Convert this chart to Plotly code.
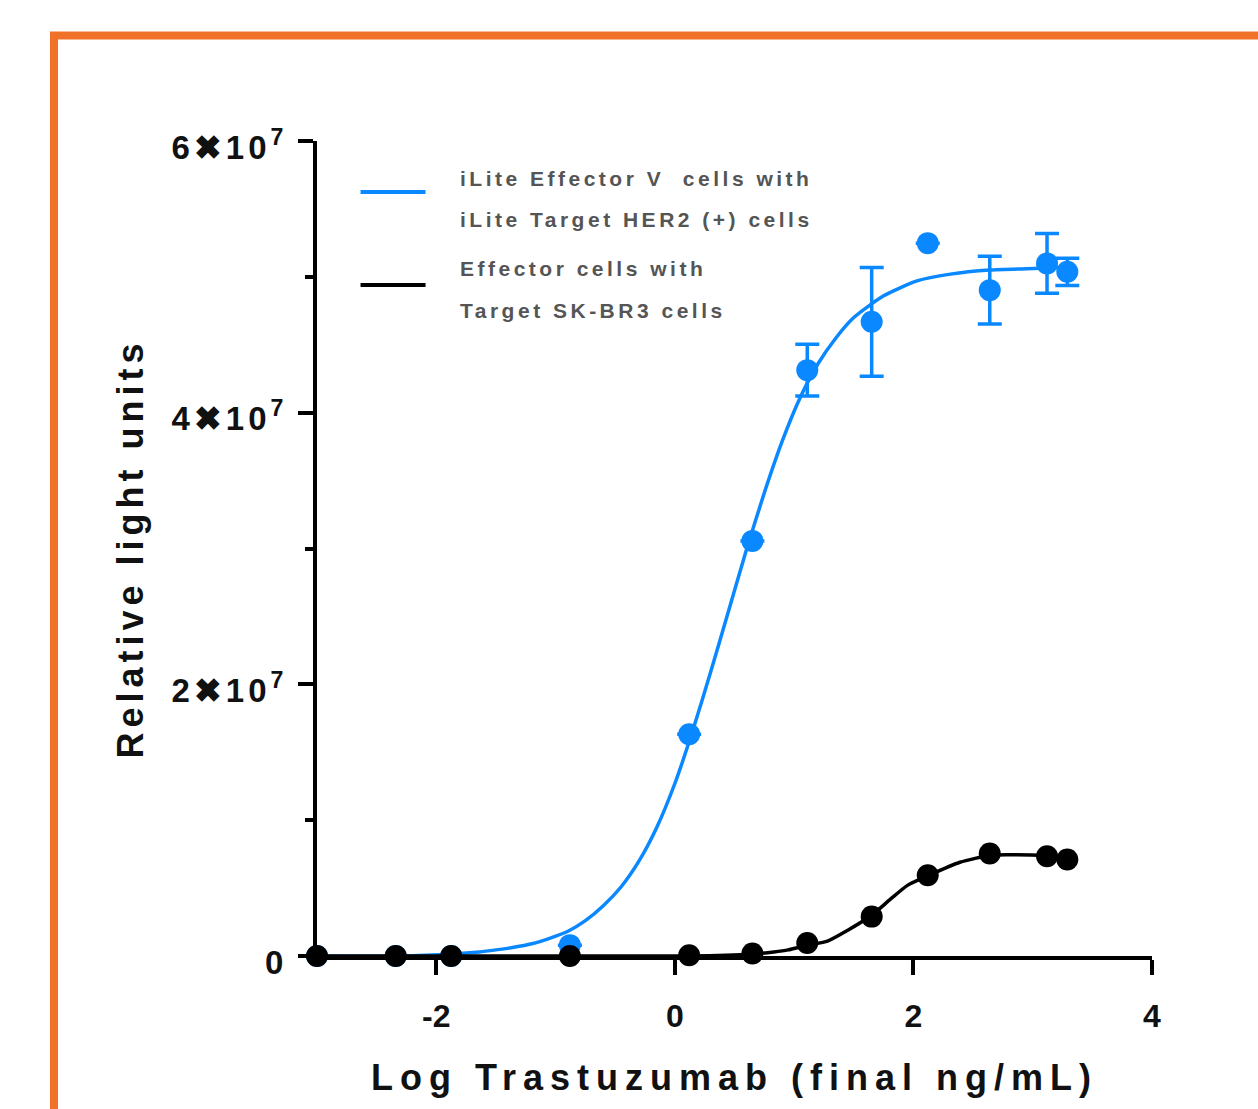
import plotly.graph_objects as go

# ---- measured data -------------------------------------------------------
# log10 of final Trastuzumab concentration (ng/mL)
log_conc = [-3.0, -2.34, -1.875, -0.88, 0.12, 0.65, 1.11, 1.65, 2.12, 2.64, 3.12, 3.29]

# iLite Effector V cells + iLite Target HER2(+) cells (mean RLU, SD)
ilite_rlu = [0.0, 0.0, 0.0, 0.08e7, 1.633e7, 3.056e7, 4.313e7, 4.669e7, 5.248e7, 4.902e7, 5.099e7, 5.037e7]
ilite_sd = [None, None, None, None, None, None, 0.19e7, 0.40e7, None, 0.25e7, 0.22e7, 0.10e7]

# Effector cells + Target SK-BR3 cells (mean RLU)
skbr3_rlu = [0.0, 0.0, 0.0, 0.0, 0.005e7, 0.018e7, 0.096e7, 0.29e7, 0.595e7, 0.754e7, 0.734e7, 0.71e7]

# fitted dose-response curves (sampled)
ilite_fit_log = [-3.0, -2.3, -1.87, -1.64, -1.5, -1.35, -1.2, -1.05, -0.9, -0.75, -0.6, -0.45,
                 -0.3, -0.15, 0.0, 0.15, 0.3, 0.45, 0.6, 0.75, 0.9, 1.05, 1.2, 1.35, 1.5, 1.75,
                 2.03, 2.31, 2.64, 2.95, 3.29]
ilite_fit_rlu = [0.0, 0.0, 0.015e7, 0.03e7, 0.045e7, 0.064e7, 0.09e7, 0.13e7, 0.18e7, 0.26e7,
                 0.37e7, 0.51e7, 0.70e7, 0.95e7, 1.27e7, 1.66e7, 2.09e7, 2.54e7, 2.99e7, 3.41e7,
                 3.79e7, 4.11e7, 4.36e7, 4.55e7, 4.70e7, 4.86e7, 4.97e7, 5.02e7, 5.05e7, 5.06e7,
                 5.07e7]

skbr3_fit_log = [-3.0, -1.87, -0.88, 0.12, 0.65, 0.83, 0.95, 1.11, 1.28, 1.45, 1.65, 1.81, 1.95,
                 2.12, 2.39, 2.64, 2.78, 3.12, 3.29]
skbr3_fit_rlu = [0.0, 0.0, 0.0, 0.0, 0.015e7, 0.03e7, 0.045e7, 0.08e7, 0.11e7, 0.19e7, 0.30e7,
                 0.42e7, 0.52e7, 0.59e7, 0.69e7, 0.74e7, 0.745e7, 0.74e7, 0.73e7]

x_ticks = [-2, 0, 2, 4]
x_ticktext = ["-2", "0", "2", "4"]
y_ticks = [0, 2e7, 4e7, 6e7]
y_ticktext = ["0", "2✖10<sup>7</sup>", "4✖10<sup>7</sup>", "6✖10<sup>7</sup>"]

legend_labels = [
    ("iLite Effector V  cells with", "iLite Target HER2 (+) cells"),
    ("Effector cells with", "Target SK-BR3 cells"),
]

# ---- styling ----------------------------------------------------------------
BLUE = "#0a88ff"
BLACK = "#000000"
ORANGE = "#f07228"
FONT = "Liberation Sans, Arial, Helvetica, sans-serif"

W, H = 1258, 1109
M_L, M_R, M_T, M_B = 317, 106, 141, 153


def paper_x(px):
    return (px - M_L) / (W - M_L - M_R)


def paper_y(py):
    return (H - M_B - py) / (H - M_T - M_B)


fig = go.Figure()

# iLite fit curve and points
fig.add_trace(go.Scatter(
    x=ilite_fit_log, y=ilite_fit_rlu, mode="lines",
    line=dict(color=BLUE, width=3.5, shape="spline", smoothing=0.6),
    showlegend=False, hoverinfo="skip"))
fig.add_trace(go.Scatter(
    x=log_conc, y=ilite_rlu, mode="markers",
    marker=dict(color=BLUE, size=22),
    error_y=dict(type="data", array=ilite_sd, color=BLUE, thickness=3.5, width=12),
    cliponaxis=False, showlegend=False))

# SK-BR3 fit curve and points
fig.add_trace(go.Scatter(
    x=skbr3_fit_log, y=skbr3_fit_rlu, mode="lines",
    line=dict(color=BLACK, width=3.5, shape="spline", smoothing=0.6),
    showlegend=False, hoverinfo="skip"))
fig.add_trace(go.Scatter(
    x=log_conc, y=skbr3_rlu, mode="markers",
    marker=dict(color=BLACK, size=22),
    cliponaxis=False, showlegend=False))

# legend: sample lines + two-line labels
legend_line_y = [5.624e7, 4.94e7]
legend_text_y = [(5.726e7, 5.424e7), (5.064e7, 4.755e7)]
for color, ly, (t1, t2), (y1, y2) in zip([BLUE, BLACK], legend_line_y, legend_labels, legend_text_y):
    fig.add_shape(type="line", xref="x", yref="y", x0=-2.635, x1=-2.09, y0=ly, y1=ly,
                  line=dict(color=color, width=4))
    for txt, ty in ((t1, y1), (t2, y2)):
        fig.add_annotation(x=-1.82, y=ty, xref="x", yref="y", text=txt, showarrow=False,
                           xanchor="left", yanchor="middle", align="left",
                           font=dict(family=FONT, size=21, color="#555555", weight="bold"))

# orange frame around the figure
fig.add_shape(type="rect", xref="paper", yref="paper",
              x0=paper_x(54), x1=paper_x(1290), y0=paper_y(1140), y1=paper_y(35.5),
              line=dict(color=ORANGE, width=8), fillcolor="rgba(0,0,0,0)", layer="above")

fig.update_layout(
    width=W, height=H,
    margin=dict(l=M_L, r=M_R, t=M_T, b=M_B, pad=0),
    paper_bgcolor="white", plot_bgcolor="white",
    font=dict(family=FONT, color="#111111", weight="bold"),
    showlegend=False,
)

fig.update_xaxes(
    range=[-3, 4], showgrid=False, zeroline=False,
    showline=True, linecolor=BLACK, linewidth=4,
    ticks="outside", ticklen=15, tickwidth=4, tickcolor=BLACK,
    tickvals=x_ticks, ticktext=x_ticktext,
    tickfont=dict(family=FONT, size=32, color="#111111", weight="bold"),
    ticklabelstandoff=14,
    title=dict(text="Log Trastuzumab (final ng/mL)", standoff=32,
               font=dict(family=FONT, size=36, color="#111111", weight="bold")),
)
fig.update_yaxes(
    range=[0, 6e7], showgrid=False, zeroline=False,
    showline=True, linecolor=BLACK, linewidth=4,
    ticks="outside", ticklen=15, tickwidth=4, tickcolor=BLACK,
    tickvals=y_ticks, ticktext=y_ticktext,
    minor=dict(ticks="outside", ticklen=8, tickwidth=4, tickcolor=BLACK, dtick=1e7, showgrid=False),
    tickfont=dict(family=FONT, size=33, color="#111111", weight="bold"),
    ticklabelstandoff=4, ticklabelshift=6,
    title=dict(text="Relative light units", standoff=38,
               font=dict(family=FONT, size=36, color="#111111", weight="bold")),
)

spacing_css = """
var st = document.createElement('style');
st.textContent = 'text.xtitle{letter-spacing:7px;} text.ytitle{letter-spacing:5px;}'
  + ' g.ytick text{letter-spacing:4px;} text.annotation-text{letter-spacing:3.5px;}';
document.head.appendChild(st);
"""

fig.write_html("out.html", post_script=spacing_css)
